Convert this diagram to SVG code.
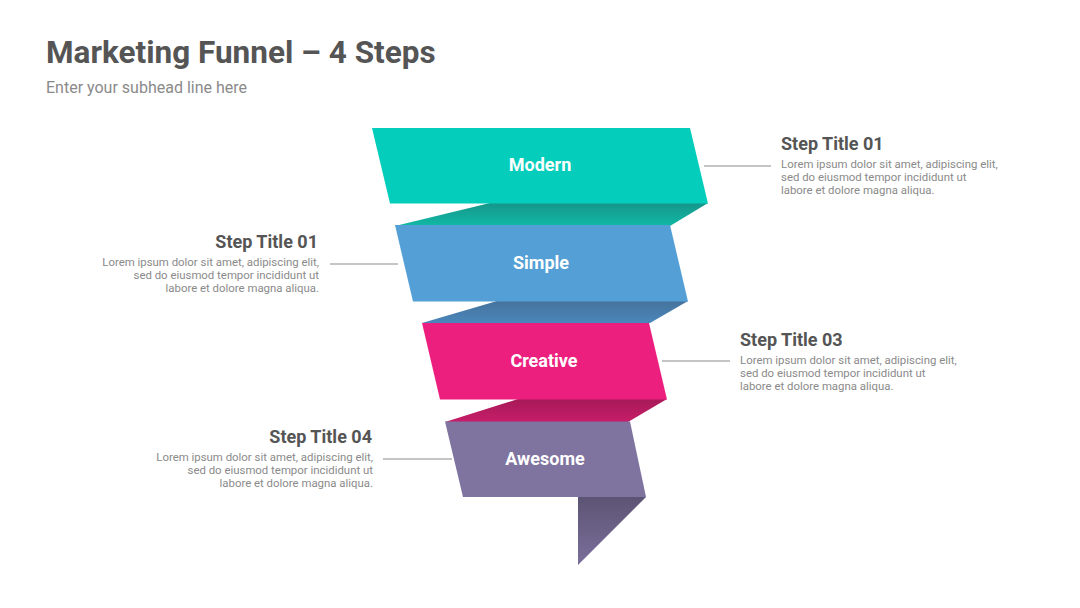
<svg xmlns="http://www.w3.org/2000/svg" width="1080" height="608" viewBox="0 0 1080 608">
<style>
.title{font-family:Roboto,"Liberation Sans",sans-serif;font-weight:700;fill:#555555}
.sub{font-family:Roboto,"Liberation Sans",sans-serif;font-size:16px;fill:#8a8a8a}
.band{font-family:Roboto,"Liberation Sans",sans-serif;font-weight:700;font-size:18px;fill:#ffffff;text-anchor:middle}
.st{font-family:Roboto,"Liberation Sans",sans-serif;font-weight:700;font-size:18px;fill:#555555}
.body{font-family:Roboto,"Liberation Sans",sans-serif;font-size:11.4px;fill:#8a8a8a}
.r{text-anchor:end}
.lead{stroke:#8a8a8a;stroke-width:1;fill:none}
</style>
<defs>
<linearGradient id="gTeal" x1="0" y1="0" x2="0" y2="1"><stop offset="0" stop-color="#15968a"/><stop offset="1" stop-color="#12b8a5"/></linearGradient>
<linearGradient id="gBlue" x1="0" y1="0" x2="0" y2="1"><stop offset="0" stop-color="#46739c"/><stop offset="1" stop-color="#4a86bb"/></linearGradient>
<linearGradient id="gPink" x1="0" y1="0" x2="0" y2="1"><stop offset="0" stop-color="#a61a57"/><stop offset="1" stop-color="#c71d6a"/></linearGradient>
<linearGradient id="gPurp" x1="0" y1="0" x2="0" y2="1"><stop offset="0" stop-color="#5c5474"/><stop offset="1" stop-color="#7b6f9c"/></linearGradient>
</defs>
<rect width="1080" height="608" fill="#ffffff"/>
<text class="title" x="46" y="63" font-size="31.5">Marketing Funnel – 4 Steps</text>
<text class="sub" x="46" y="93">Enter your subhead line here</text>

<g id="connectors">
<line class="lead" x1="704" y1="166" x2="771" y2="166"/>
<line class="lead" x1="330" y1="264" x2="398" y2="264"/>
<line class="lead" x1="662" y1="361" x2="730" y2="361"/>
<line class="lead" x1="383" y1="459" x2="452" y2="459"/>
</g>

<g id="band-modern">
<polygon points="490,203 708,203 670,226 395,226" fill="url(#gTeal)"/>
<polygon points="372,128 690,128 708,203.5 390,203.5" fill="#05cdbb"/>
<text class="band" x="540" y="171">Modern</text>
</g>
<g id="band-simple">
<polygon points="497,301 688,301 650,323 422,323" fill="url(#gBlue)"/>
<polygon points="395,225 670,225 688,301.5 413,301.5" fill="#539fd6"/>
<text class="band" x="541" y="269">Simple</text>
</g>
<g id="band-creative">
<polygon points="518,399 667,399 628,422 445,422" fill="url(#gPink)"/>
<polygon points="422,323 649,323 667,399.5 440,399.5" fill="#ec1f7e"/>
<text class="band" x="544" y="367">Creative</text>
</g>
<g id="band-awesome">
<polygon points="578,497 646,497 578,565" fill="url(#gPurp)"/>
<polygon points="445,421.5 630,421.5 646,497 463,497" fill="#7f73a0"/>
<text class="band" x="545" y="465">Awesome</text>
</g>

<g id="text-1">
<text class="st" x="781" y="150">Step Title 01</text>
<text class="body" x="781" y="168">Lorem ipsum dolor sit amet, adipiscing elit,</text>
<text class="body" x="781" y="181">sed do eiusmod tempor incididunt ut</text>
<text class="body" x="781" y="194">labore et dolore magna aliqua.</text>
</g>
<g id="text-2">
<text class="st r" x="318" y="248">Step Title 01</text>
<text class="body r" x="319" y="266">Lorem ipsum dolor sit amet, adipiscing elit,</text>
<text class="body r" x="319" y="279">sed do eiusmod tempor incididunt ut</text>
<text class="body r" x="319" y="292">labore et dolore magna aliqua.</text>
</g>
<g id="text-3">
<text class="st" x="740" y="346">Step Title 03</text>
<text class="body" x="740" y="364">Lorem ipsum dolor sit amet, adipiscing elit,</text>
<text class="body" x="740" y="377">sed do eiusmod tempor incididunt ut</text>
<text class="body" x="740" y="390">labore et dolore magna aliqua.</text>
</g>
<g id="text-4">
<text class="st r" x="372" y="443">Step Title 04</text>
<text class="body r" x="373" y="461">Lorem ipsum dolor sit amet, adipiscing elit,</text>
<text class="body r" x="373" y="474">sed do eiusmod tempor incididunt ut</text>
<text class="body r" x="373" y="487">labore et dolore magna aliqua.</text>
</g>
</svg>
